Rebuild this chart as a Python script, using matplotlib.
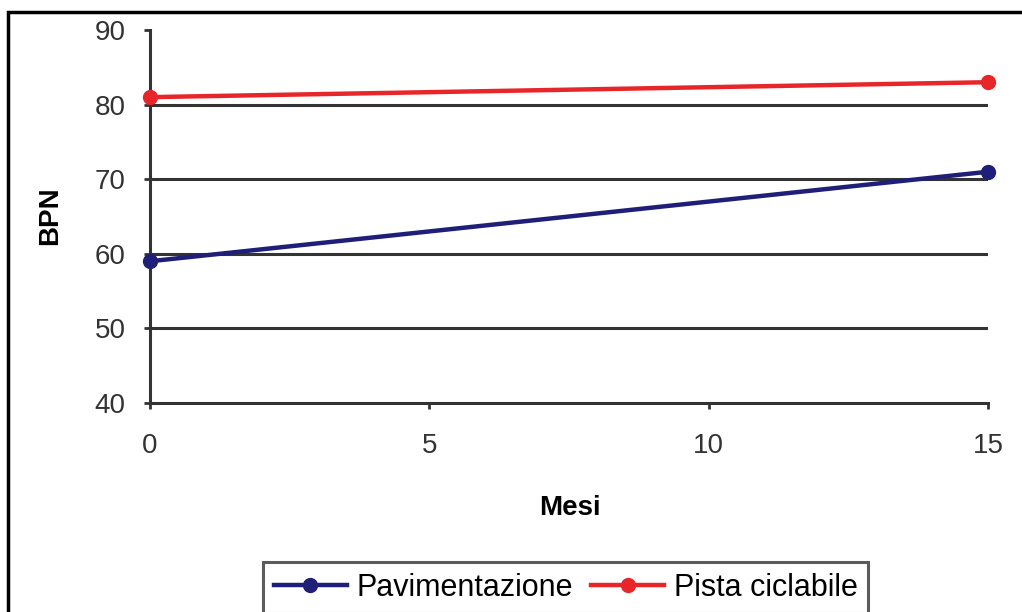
import matplotlib
matplotlib.use("Agg")
import matplotlib.pyplot as plt
from matplotlib.patches import Rectangle

months = [0, 15]
pavimentazione = [59, 71]
pista_ciclabile = [81, 83]
series_labels = ["Pavimentazione", "Pista ciclabile"]
x_ticks = [0, 5, 10, 15]
y_ticks = [40, 50, 60, 70, 80, 90]

plt.rcParams['font.family'] = ['Liberation Sans', 'DejaVu Sans']

W, H = 1022, 612
fig = plt.figure(figsize=(W / 100, H / 100), dpi=100)
ax = fig.add_axes([150 / W, 1 - 403 / H, (988 - 150) / W, (403 - 30) / H])

for v in [50, 60, 70, 80]:
    ax.axhline(v, color='#333333', lw=2.2, zorder=1)

ax.plot(months, pavimentazione, color='#1f1f7a', lw=3.2, marker='o', ms=10,
        label=series_labels[0], zorder=3, clip_on=False)
ax.plot(months, pista_ciclabile, color='#e8262a', lw=3.2, marker='o', ms=10,
        label=series_labels[1], zorder=3, clip_on=False)

ax.set_xlim(0, 15)
ax.set_ylim(40, 90)
ax.set_xticks(x_ticks)
ax.set_yticks(y_ticks)
ax.tick_params(axis='both', labelsize=20, colors='#333333', width=2, length=4.5, direction='out')
ax.tick_params(axis='x', pad=17)
ax.tick_params(axis='y', pad=13)
for s in ['top', 'right']:
    ax.spines[s].set_visible(False)
for s in ['left', 'bottom']:
    ax.spines[s].set_linewidth(2.2)
    ax.spines[s].set_color('#333333')

fig.text(50 / W, 1 - 216 / H, "BPN", fontsize=20, fontweight='bold', rotation=90,
         ha='center', va='center')
fig.text(570 / W, 1 - 508 / H, "Mesi", fontsize=20, fontweight='bold',
         ha='center', va='center')

fig.patches.append(Rectangle((8 / W, -0.1), 1.2, 1 - 12 / H + 0.1, transform=fig.transFigure,
                             fill=False, edgecolor='black', lw=2.5))

leg = fig.legend(loc='upper left', bbox_to_anchor=(263 / W, 1 - 562 / H), ncol=2,
                 fontsize=22, frameon=True, fancybox=False, edgecolor='#333333',
                 handlelength=2.4, columnspacing=0.6, handletextpad=0.3, borderpad=0.35,
                 borderaxespad=0)
leg.get_frame().set_linewidth(2.2)

fig.savefig("out.png", dpi=100)
